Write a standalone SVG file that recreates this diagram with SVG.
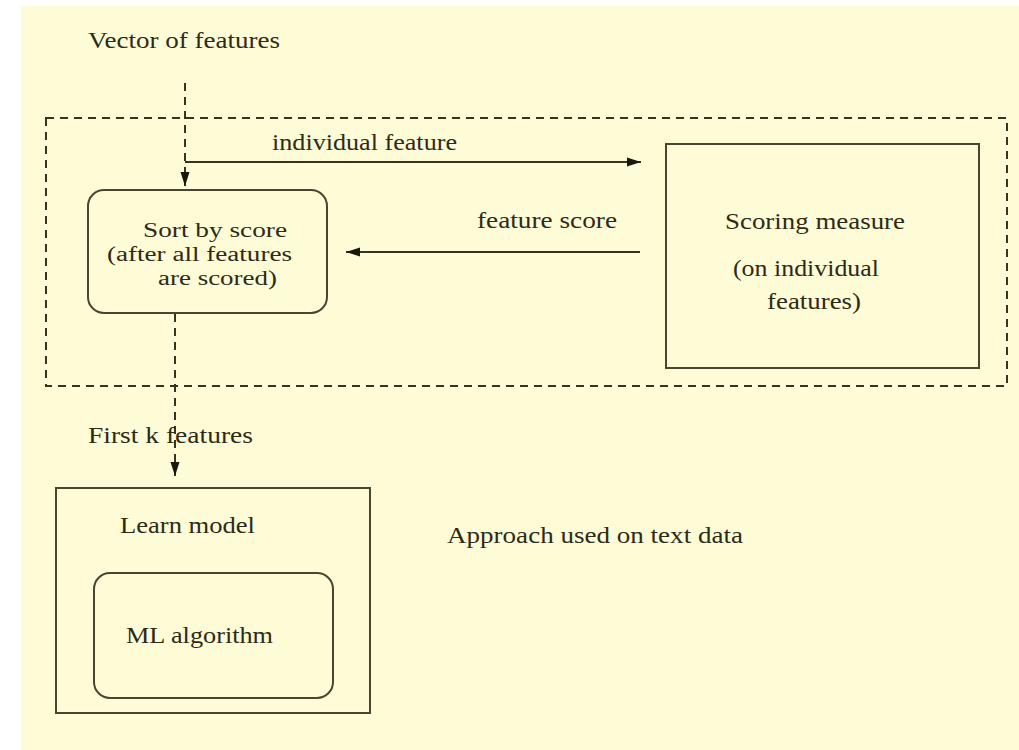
<svg xmlns="http://www.w3.org/2000/svg" width="1019" height="750" viewBox="0 0 1019 750">
  <defs>
    <style>
      text { font-family: 'Liberation Serif', 'DejaVu Serif', serif; font-size: 23px; fill: #2e2a18; }
      text.sm { font-size: 20px; }
      .box { fill: none; stroke: #4a4530; stroke-width: 2; }
      .ln { fill: none; stroke: #38331f; stroke-width: 2; }
      .dash { fill: none; stroke: #38331f; stroke-width: 2; stroke-dasharray: 8 6; }
    </style>
    <marker id="arr" markerUnits="userSpaceOnUse" markerWidth="16" markerHeight="12" refX="14" refY="6" orient="auto">
      <path d="M0,1.5 L14,6 L0,10.5 z" fill="#1a170c"/>
    </marker>
  </defs>

  <rect x="21" y="6" width="998" height="744" fill="#fefcd6"/>

  <g id="group-boundary">
    <rect x="46" y="118" width="961" height="268" class="dash"/>
  </g>

  <g id="connectors">
    <line x1="185" y1="83" x2="185" y2="186" class="dash" marker-end="url(#arr)"/>
    <line x1="185" y1="162" x2="641" y2="162" class="ln" marker-end="url(#arr)"/>
    <text x="272" y="150" textLength="185" lengthAdjust="spacingAndGlyphs">individual feature</text>
    <line x1="640" y1="252" x2="346" y2="252" class="ln" marker-end="url(#arr)"/>
    <text x="477" y="228" textLength="140" lengthAdjust="spacingAndGlyphs">feature score</text>
    <line x1="175" y1="314" x2="175" y2="476" class="dash" marker-end="url(#arr)"/>
    <text x="88" y="443" textLength="165" lengthAdjust="spacingAndGlyphs">First k features</text>
  </g>

  <g id="input-label">
    <text x="88" y="48" textLength="192" lengthAdjust="spacingAndGlyphs">Vector of features</text>
  </g>

  <g id="sort-node">
    <rect x="88" y="190" width="239" height="123" rx="16" ry="16" class="box"/>
    <text class="sm" x="143" y="237" textLength="144" lengthAdjust="spacingAndGlyphs">Sort by score</text>
    <text class="sm" x="107" y="261" textLength="185" lengthAdjust="spacingAndGlyphs">(after all features</text>
    <text class="sm" x="158" y="285" textLength="119" lengthAdjust="spacingAndGlyphs">are scored)</text>
  </g>

  <g id="scoring-node">
    <rect x="666" y="144" width="313" height="224" class="box"/>
    <text x="725" y="229" textLength="180" lengthAdjust="spacingAndGlyphs">Scoring measure</text>
    <text x="733" y="276" textLength="146" lengthAdjust="spacingAndGlyphs">(on individual</text>
    <text x="767" y="309" textLength="94" lengthAdjust="spacingAndGlyphs">features)</text>
  </g>

  <g id="learn-node">
    <rect x="56" y="488" width="314" height="225" class="box"/>
    <text x="120" y="533" textLength="135" lengthAdjust="spacingAndGlyphs">Learn model</text>
  </g>

  <g id="ml-node">
    <rect x="94" y="573" width="239" height="125" rx="16" ry="16" class="box"/>
    <text x="126" y="643" textLength="147" lengthAdjust="spacingAndGlyphs">ML algorithm</text>
  </g>

  <g id="caption">
    <text x="447" y="543" textLength="296" lengthAdjust="spacingAndGlyphs">Approach used on text data</text>
  </g>
</svg>
